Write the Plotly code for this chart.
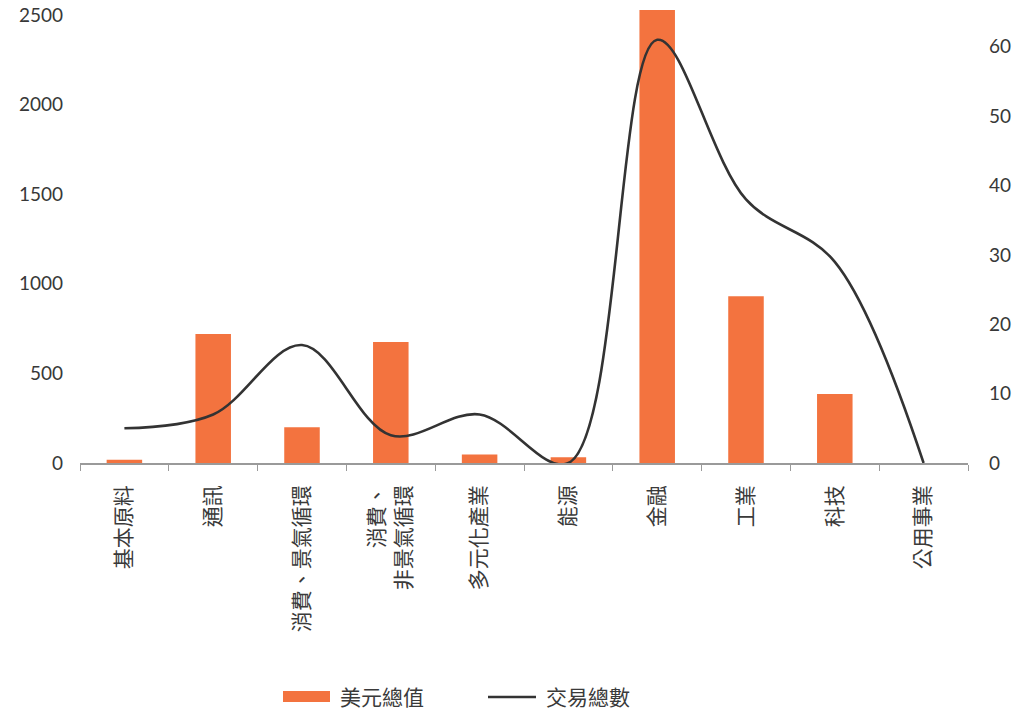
import plotly.graph_objects as go

# Sector breakdown: deal value (USD) and deal count
sectors = ["基本原料", "通訊", "消費、景氣循環", "消費、<br>非景氣循環", "多元化產業",
           "能源", "金融", "工業", "科技", "公用事業"]
usd_value = [18, 720, 200, 675, 48, 32, 2530, 930, 385, 0]
deal_count = [5, 7, 17, 4, 7, 0, 61, 38, 29, 0]

left_ticks = [0, 500, 1000, 1500, 2000, 2500]
right_ticks = [0, 10, 20, 30, 40, 50, 60]

BAR_COLOR = "#F3733F"
LINE_COLOR = "#333333"
TICK_FONT = dict(family="Lato, 'Open Sans', sans-serif", size=19, color="#383838")
CJK_FONT = dict(family="'Noto Sans CJK TC', sans-serif", size=21, color="#3a3a3a")

fig = go.Figure()
fig.add_trace(go.Bar(
    x=sectors, y=usd_value, name="美元總值",
    marker=dict(color=BAR_COLOR, line=dict(width=0)),
    showlegend=False, yaxis="y",
))
fig.add_trace(go.Scatter(
    x=sectors, y=deal_count, name="交易總數", mode="lines",
    line=dict(color=LINE_COLOR, width=2.6, shape="spline", smoothing=1.0),
    showlegend=False, yaxis="y2",
))

fig.update_layout(
    width=1035, height=714,
    margin=dict(l=80, r=67, t=10, b=251),
    paper_bgcolor="white", plot_bgcolor="white",
    bargap=0.6,
    xaxis=dict(
        type="category", range=[-0.5, 9.5], automargin=False,
        showline=True, linecolor="#9a9a9a", linewidth=1.5,
        ticks="outside", tickson="boundaries", ticklen=6, tickcolor="#9a9a9a",
        tickangle=-90, tickfont=CJK_FONT, ticklabelstandoff=12,
        showgrid=False, zeroline=False,
    ),
    yaxis=dict(
        range=[0, 2528], tickvals=left_ticks, tickfont=TICK_FONT, automargin=False,
        showgrid=False, zeroline=False, showline=False, ticks="",
        ticklabelstandoff=16,
    ),
    yaxis2=dict(
        range=[0, 65.3], tickvals=right_ticks, tickfont=TICK_FONT, automargin=False,
        overlaying="y", side="right",
        showgrid=False, zeroline=False, showline=False, ticks="",
        ticklabelstandoff=20,
    ),
)

# Legend drawn below the category labels
def px_x(p):
    return (p - 80) / 888.0

def px_y(p):
    return (463 - p) / 453.0

fig.add_shape(type="rect", xref="paper", yref="paper",
              x0=px_x(283), x1=px_x(330), y0=px_y(691), y1=px_y(702),
              fillcolor=BAR_COLOR, line=dict(width=0))
fig.add_annotation(xref="paper", yref="paper", x=px_x(338), y=px_y(696),
                   text="美元總值", showarrow=False, xanchor="left", yanchor="middle",
                   font=CJK_FONT)
fig.add_shape(type="line", xref="paper", yref="paper",
              x0=px_x(488), x1=px_x(536), y0=px_y(697), y1=px_y(697),
              line=dict(color=LINE_COLOR, width=2.6))
fig.add_annotation(xref="paper", yref="paper", x=px_x(544), y=px_y(696),
                   text="交易總數", showarrow=False, xanchor="left", yanchor="middle",
                   font=CJK_FONT)

fig.write_html("out.html")
